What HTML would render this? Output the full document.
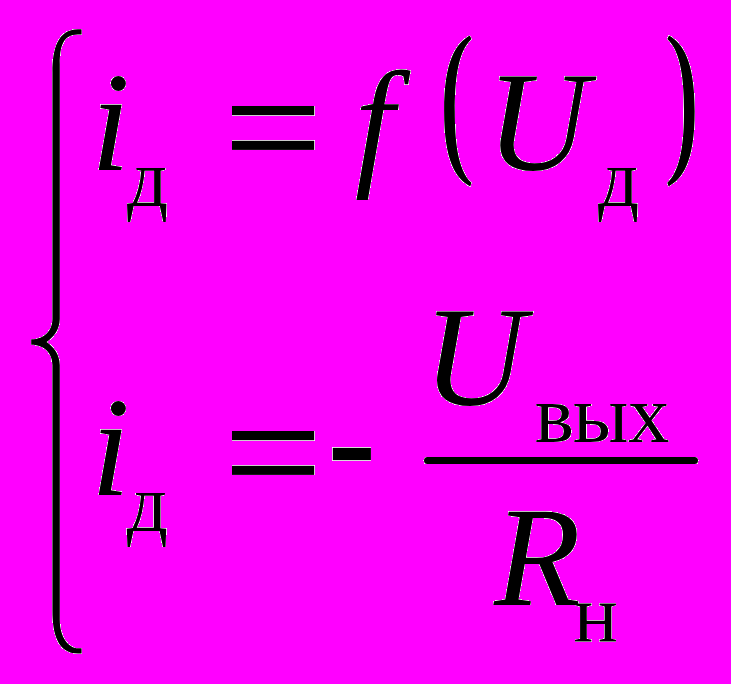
<!DOCTYPE html>
<html>
<head>
<meta charset="utf-8">
<style>
html,body{margin:0;padding:0;background:#FF00FF;width:731px;height:684px;overflow:hidden;}
svg{display:block;}
.it{font-family:"Liberation Serif",serif;font-style:italic;font-size:142px;}
.sb{font-family:"Liberation Serif",serif;font-style:normal;font-size:83px;}
</style>
</head>
<body>
<svg width="731" height="684" viewBox="0 0 731 684">
<defs>
<filter id="key" filterUnits="userSpaceOnUse" x="0" y="0" width="731" height="684" color-interpolation-filters="sRGB">
<feComponentTransfer>
<feFuncG type="discrete" tableValues="0.00098 0.004902 0.008824 0.012745 0.016667 0.020588 0.02451 0.028431 0.032353 0.036275 0.040196 0.044118 0.048039 0.051961 0.055882 0.059804 0.063725 0.067647 0.071569 0.07549 0.079412 0.083333 0.087255 0.091176 0.095098 0.09902 0.102941 0.106863 0.110784 0.114706 0.118627 0.122549 0.126471 0.130392 0.134314 0.138235 0.142157 0.146078 0.15 0.153922 0.157843 0.161765 0.165686 0.169608 0.173529 0.177451 0.181373 0.185294 0.189216 0.193137 0.197059 0.20098 0.204902 0.208824 0.212745 0.216667 0.220588 0.22451 0.228431 0.232353 0.236275 0.240196 0.244118 0.248039 0.251961 0.255882 0.259804 0.263725 0.267647 0.271569 0.27549 0.279412 0.283333 0.287255 0.291176 0.295098 0.29902 0.302941 0.306863 0.310784 0.314706 0.318627 0.322549 0.326471 0.330392 0.334314 0.338235 0.342157 0.346078 0.35 0.353922 0.357843 0.361765 0.365686 0.369608 0.373529 0.377451 0.381373 0.385294 0.389216 0.393137 0.397059 0.40098 0.404902 0.408824 0.412745 0.416667 0.420588 0.42451 0.428431 0.432353 0.436275 0.440196 0.444118 0.448039 0.451961 0.455882 0.459804 0.463725 0.467647 0.471569 0.47549 0.479412 0.483333 0.487255 0.491176 0.495098 0.49902 0.502941 0.506863 0.510784 0.514706 0.518627 0.522549 0.526471 0.530392 0.534314 0.538235 0.542157 0.546078 0.55 0.553922 0.557843 0.561765 0.565686 0.569608 0.573529 0.577451 0.581373 0.585294 0.589216 0.593137 0.597059 0.60098 0.604902 0.608824 0.612745 0.616667 0.620588 0.62451 0.628431 0.632353 0.636275 0.640196 0.644118 0.648039 0.651961 0.655882 0.659804 0.663725 0.667647 0.671569 0.67549 0.679412 0.683333 0.687255 0.691176 0.695098 0.69902 0.702941 0.706863 0.710784 0.714706 0.718627 0.722549 0.726471 0.730392 0.734314 0.738235 0.742157 0.746078 0.75 0.753922 0.757843 0.761765 0.765686 0.769608 0.773529 0.777451 0.781373 0.785294 0.789216 0.793137 0.797059 0.80098 0.804902 0.808824 0.812745 0.816667 0.820588 0.82451 0.828431 0.832353 0.836275 0.840196 0.844118 0.848039 0.851961 0.855882 0.859804 0.863725 0.867647 0.871569 0.87549 0.879412 0.883333 0.887255 0.891176 0.895098 0.89902 0.902941 0.906863 0.910784 0.914706 0.918627 0.922549 0.926471 0.930392 0.934314 0.938235 0.942157 0.946078 0.95 0.953922 0.957843 0.961765 0.965686 0.969608 0.973529 0.977451 0.981373 0.985294 0.989216 0.993137 0.997059 0"/>
</feComponentTransfer>
</filter>
</defs>
<g filter="url(#key)">
<rect x="0" y="0" width="731" height="684" fill="#FFFFFF"/>
<g fill="#000">
<path d="M81.6 29.2 L78 29.2 C57.5 29.2 52.4 49.5 52.4 72 L52.4 319 C52.4 330 45 339.3 31.2 339.3 L31.2 344.7 C45 344.7 52.4 354 52.4 365 L52.4 610.8 C52.4 633.3 57.5 653.6 78 653.6 L81.6 653.6 L81.6 648.3 L78 648.3 C69 648.3 59.8 637.5 59.8 620 L59.8 365 C59.8 354 53 346.5 46.6 342 C53 337.5 59.8 330 59.8 319 L59.8 64 C59.8 46.5 63 34.5 78 34.5 L81.6 34.5 Z"/>
<text class="it" x="90.85" y="170">i</text>
<text class="sb" transform="translate(127 206) scale(0.978 1)">д</text>
<rect x="232" y="106" width="82.2" height="9.2"/>
<rect x="232" y="140.8" width="82.2" height="9.1"/>
<text class="it" x="354.7" y="170">f</text>
<path d="M469.8 35.5 C456.1 43.5 444.1 60 444.1 111 C444.1 162 456.1 178.5 470.2 186.4 L471.5 182.8 C457.3 169.9 454.8 139 454.8 111 C454.8 83 457.3 52.1 471.5 39.1 Z"/>
<text class="it" x="486.3" y="170">U</text>
<text class="sb" transform="translate(598 206) scale(0.978 1)">д</text>
<path transform="translate(1138.8 0) scale(-1 1)" d="M469.8 35.5 C456.1 43.5 444.1 60 444.1 111 C444.1 162 456.1 178.5 470.2 186.4 L471.5 182.8 C457.3 169.9 454.8 139 454.8 111 C454.8 83 457.3 52.1 471.5 39.1 Z"/>
<text class="it" x="90.75" y="495">i</text>
<text class="sb" transform="translate(126.8 531) scale(0.978 1)">д</text>
<rect x="232" y="431" width="82.2" height="9.2"/>
<rect x="232" y="465.8" width="82.2" height="9.1"/>
<rect x="332.8" y="447.85" width="38.1" height="12.3"/>
<text class="it" x="423" y="405">U</text>
<text class="sb" x="534.8 572.8 627.9" y="442">вых</text>
<rect x="424" y="457" width="274" height="7" rx="3.5" ry="3.5"/>
<text class="it" x="494" y="605">R</text>
<text class="sb" x="573.6" y="642">н</text>
</g>
</g>
</svg>
</body>
</html>
